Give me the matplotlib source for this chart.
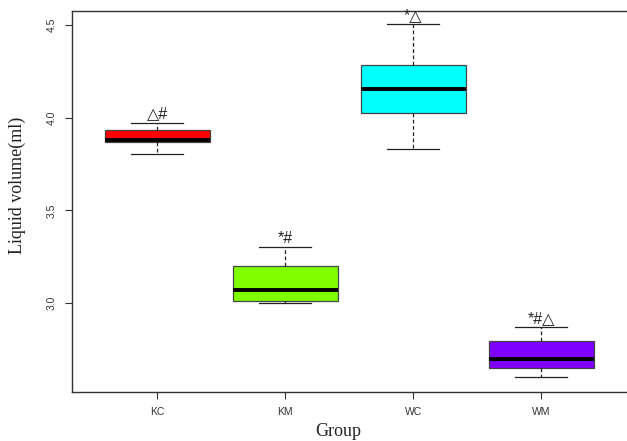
import matplotlib
matplotlib.use("Agg")
import matplotlib.pyplot as plt

groups = ["KC", "KM", "WC", "WM"]
whislo = [3.806, 2.998, 3.833, 2.600]
q1 = [3.870, 3.012, 4.023, 2.648]
med = [3.882, 3.070, 4.155, 2.698]
q3 = [3.935, 3.200, 4.282, 2.797]
whishi = [3.973, 3.304, 4.504, 2.869]
labels = ["\u25b3#", "*#", "*\u25b3", "*#\u25b3"]
colors = ["#FF0000", "#7FFF00", "#00FFFF", "#8000FF"]

fig = plt.figure(figsize=(6.27, 4.41), dpi=100)
ax = fig.add_axes([0.1144, 0.111, 0.8856, 0.864])

stats = []
for i, g in enumerate(groups):
    stats.append(dict(label=g, whislo=whislo[i], q1=q1[i], med=med[i],
                      q3=q3[i], whishi=whishi[i], fliers=[]))

pos = list(range(1, len(groups) + 1))
bp = ax.bxp(stats, positions=pos, widths=0.82, patch_artist=True,
            showfliers=False,
            boxprops=dict(edgecolor="#444444", linewidth=0.9),
            medianprops=dict(color="black", linewidth=2.8),
            whiskerprops=dict(color="#222222", linewidth=0.9, linestyle=(0, (3, 2))),
            capprops=dict(color="#222222", linewidth=0.9),
            capwidths=0.41)
for patch, c in zip(bp["boxes"], colors):
    patch.set_facecolor(c)

for p, top, lab in zip(pos, whishi, labels):
    ax.text(p, top + 0.006, lab, ha="center", va="bottom", fontsize=11.5,
            family=["Liberation Sans", "DejaVu Sans"], color="#222222")

ax.set_xlim(0.333, 4.67)
ax.set_ylim(2.52, 4.575)
ax.set_yticks([3.0, 3.5, 4.0, 4.5])
ax.set_yticklabels(["3.0", "3.5", "4.0", "4.5"], rotation=90, va="center",
                   family="Liberation Sans", fontsize=7.5, color="#333333")
ax.set_xticks(pos)
ax.set_xticklabels(groups, family="Liberation Sans", fontsize=7.5, color="#333333")
ax.tick_params(axis="both", direction="out", length=5, width=0.8, color="#333333")
ax.tick_params(axis="x", pad=5.5)
ax.tick_params(axis="y", pad=6)

for s in ["left", "top", "bottom"]:
    ax.spines[s].set_color("#333333")
    ax.spines[s].set_linewidth(1.0)
ax.spines["right"].set_visible(False)

fig.text(0.539, 0.021, "Group", ha="center", va="center",
         family="Liberation Serif", fontsize=13, color="#222222")
fig.text(0.027, 0.58, "Liquid volume(ml)", ha="center", va="center", rotation=90,
         family="Liberation Serif", fontsize=13, color="#222222")

fig.savefig("out.png", dpi=100)
